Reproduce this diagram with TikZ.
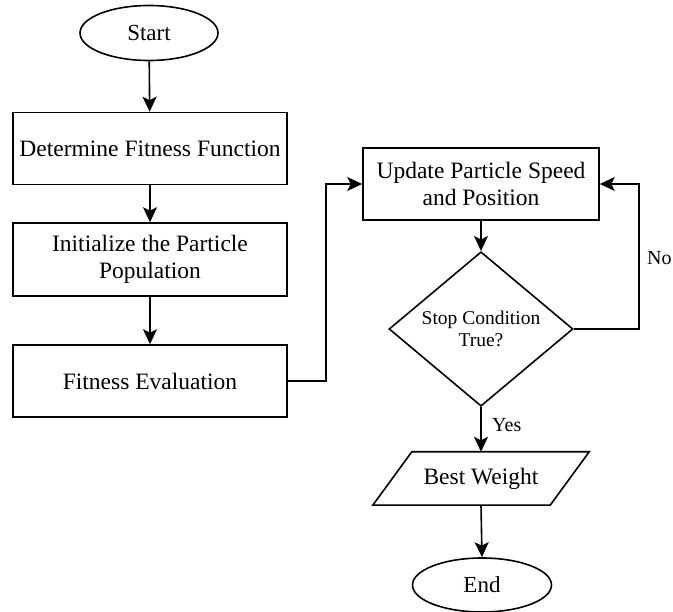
\documentclass[tikz,border=0pt]{standalone}
\usepackage{fontspec}
\setmainfont{Liberation Serif}
\usetikzlibrary{shapes.geometric, arrows.meta}

\tikzset{
    procbox/.style={draw, line width=1.6pt, minimum width=274pt, minimum height=72pt, align=center, font=\fontsize{23.5}{27}\selectfont},
    termnode/.style={draw, ellipse, line width=1.6pt, minimum width=138pt, minimum height=55pt, font=\fontsize{23}{27}\selectfont},
    decnode/.style={draw, diamond, line width=1.6pt, minimum width=184pt, minimum height=138pt, inner sep=0pt, align=center, font=\fontsize{19.5}{22}\selectfont},
    flow/.style={line width=1.6pt, -{Stealth[length=15pt, width=14pt, inset=3.5pt]}},
    branch/.style={font=\fontsize{20}{22}\selectfont, anchor=west, inner sep=0pt},
}

\begin{document}
\begin{tikzpicture}[x=1pt, y=-1pt]
    \useasboundingbox (0, 0) rectangle (673, 612);

    \node[termnode] (start) at (149, 33) {Start};
    \node[procbox] (fitfun) at (150, 148.5) {Determine Fitness Function};
    \node[procbox, minimum height=73pt] (init) at (150, 259.5) {Initialize the Particle\\Population};
    \node[procbox] (evalfit) at (150, 381) {Fitness Evaluation};

    \node[procbox, minimum width=236pt] (update) at (481, 184) {Update Particle Speed\\and Position};
    \node[decnode] (stopcond) at (481, 329) {Stop Condition\\True?};
    \node[minimum width=216pt, minimum height=53pt, inner sep=0pt, font=\fontsize{23.5}{27}\selectfont] (best) at (481, 478.5) {Best Weight};
    % parallelogram round the output node
    \draw[line width=1.6pt] ([xshift=39pt]best.north west) -- (best.north east)
        -- ([xshift=-39pt]best.south east) -- (best.south west) -- cycle;
    \node[termnode, minimum width=139pt, minimum height=54pt] (end) at (482, 585) {End};

    \node[branch] (yes) at (492, 425) {Yes};
    \node[branch] (no) at (647, 258) {No};

    \draw[flow] (start) to (fitfun);
    \draw[flow] (fitfun) to (init);
    \draw[flow] (init) to (evalfit);
    \draw[flow] (evalfit.east) -- ++(38, 0) |- (update.west);
    \draw[flow] (update) to (stopcond);
    \draw[flow] (stopcond.east) -- ++(65, 0) |- (update.east);
    \draw[flow] (stopcond.south) to (best.north);
    \draw[flow] (best.south) to (end.north);
\end{tikzpicture}
\end{document}
